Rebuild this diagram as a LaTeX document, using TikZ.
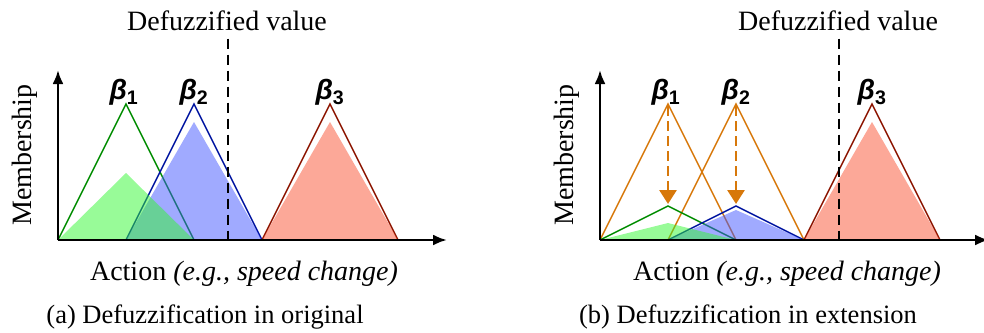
\documentclass[tikz,border=0pt]{standalone}
\usepackage{fontspec}
\setmainfont{Liberation Serif}
\newfontfamily\betafont{Liberation Sans}
\usetikzlibrary{arrows.meta}
\definecolor{mfgreen}{RGB}{0,140,0}
\definecolor{mfblue}{RGB}{0,20,160}
\definecolor{mfred}{RGB}{140,20,0}
\definecolor{mforange}{RGB}{215,120,10}
\definecolor{fillgreen}{RGB}{49,247,49}
\definecolor{fillblue}{RGB}{65,85,255}
\definecolor{fillred}{RGB}{249,81,49}

\begin{document}
\begin{tikzpicture}[
  x=1pt, y=-1pt,
  axis/.style={line width=2.6pt, -{Latex[length=14pt, width=11pt]}},
  mf/.style={line width=1.5pt},
  area/.style={fill opacity=0.5},
  defuzz/.style={line width=2.4pt, dash pattern=on 10pt off 6pt},
  shrink/.style={line width=2.8pt, draw=mforange, dash pattern=on 10pt off 5pt,
                 -{Triangle[length=14pt, width=17pt]}},
  lbl/.style={font=\fontsize{28}{30}\selectfont},
  captext/.style={font=\fontsize{26.5}{28}\selectfont},
  betalbl/.style={font=\betafont\bfseries\fontsize{28}{30}\selectfont}
]
\useasboundingbox (0,0) rectangle (984,332);

% (a) original
\draw[mf, mfgreen] (58,240) -- (126,104) -- (194,240);
\draw[mf, mfblue] (126,240) -- (194,104) -- (262,240);
\draw[mf, mfred] (262,240) -- (330,104) -- (398,240);
\fill[area, fillblue] (126,240) -- (194,122) -- (262,240) -- cycle;
\fill[area, fillgreen] (58,240) -- (126,173) -- (194,240) -- cycle;
\fill[area, fillred] (262,240) -- (330,122) -- (398,240) -- cycle;

\node[betalbl] (a-b1) at (124,92) {\itshape β\textsubscript{\upshape 1}};
\node[betalbl] (a-b2) at (194,92) {\itshape β\textsubscript{\upshape 2}};
\node[betalbl] (a-b3) at (330,92) {\itshape β\textsubscript{\upshape 3}};

\node[lbl] (a-defuzz) at (227,21) {Defuzzified value};
\coordinate (a-cut) at (228,240);
\draw[defuzz] (a-defuzz.south -| a-cut) ++(0,4) -- (a-cut);

\coordinate (a-origin) at (58,240);
\draw[axis] (a-origin) -- (58,70);
\draw[axis] (a-origin) -- (447,240);
\node[lbl, rotate=90] (a-ylabel) at (25,155) {Membership};
\node[lbl] (a-xlabel) at (244,274) {Action \textit{(e.g., speed change)}};
\node[captext] (a-caption) at (205,317) {(a) Defuzzification in original};

% (b) extension
\begin{scope}[xshift=542]
\draw[mf, mforange] (58,240) -- (126,104) -- (194,240);
\draw[mf, mforange] (126,240) -- (194,104) -- (262,240);
\draw[mf, mfgreen] (58,240) -- (126,206) -- (194,240);
\draw[mf, mfblue] (126,240) -- (194,206) -- (262,240);
\draw[mf, mfred] (262,240) -- (330,104) -- (398,240);
\fill[area, fillblue] (126,240) -- (194,210) -- (262,240) -- cycle;
\fill[area, fillgreen] (58,240) -- (126,223) -- (194,240) -- cycle;
\fill[area, fillred] (262,240) -- (330,122) -- (398,240) -- cycle;

\coordinate (b-top1) at (126,106);
\coordinate (b-low1) at (126,204);
\coordinate (b-top2) at (194,106);
\coordinate (b-low2) at (194,204);
\draw[shrink] (b-top1) -- (b-low1);
\draw[shrink] (b-top2) -- (b-low2);

\node[betalbl] (b-b1) at (124,92) {\itshape β\textsubscript{\upshape 1}};
\node[betalbl] (b-b2) at (194,92) {\itshape β\textsubscript{\upshape 2}};
\node[betalbl] (b-b3) at (330,92) {\itshape β\textsubscript{\upshape 3}};

\node[lbl] (b-defuzz) at (296,21) {Defuzzified value};
\coordinate (b-cut) at (297,240);
\draw[defuzz] (b-defuzz.south -| b-cut) ++(0,4) -- (b-cut);

\coordinate (b-origin) at (58,240);
\draw[axis] (b-origin) -- (58,70);
\draw[axis] (b-origin) -- (447,240);
\node[lbl, rotate=90] (b-ylabel) at (25,155) {Membership};
\node[lbl] (b-xlabel) at (245,274) {Action \textit{(e.g., speed change)}};
\node[captext] (b-caption) at (206,317) {(b) Defuzzification in extension};
\end{scope}
\end{tikzpicture}
\end{document}
